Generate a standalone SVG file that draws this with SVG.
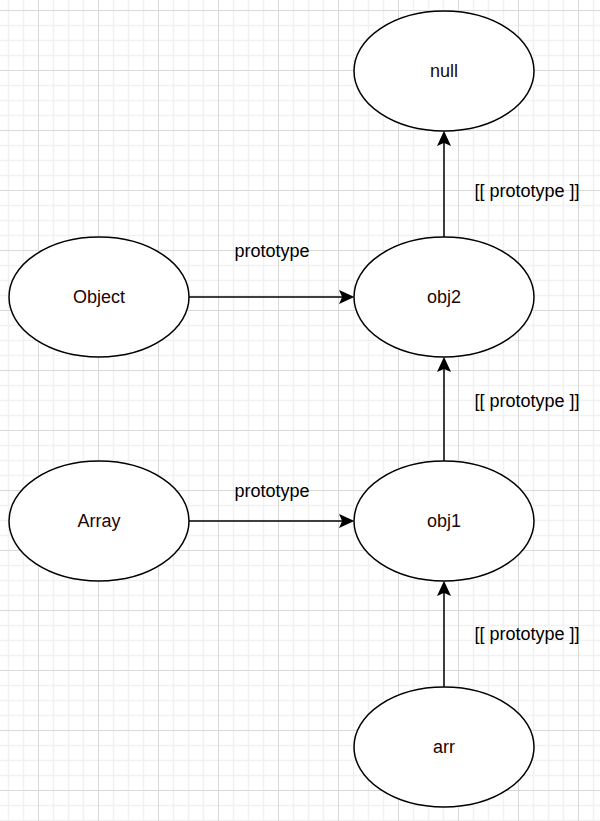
<svg xmlns="http://www.w3.org/2000/svg" width="600" height="821" viewBox="0 0 600 821">
  <style>
    .node ellipse { fill: #ffffff; stroke: #000000; stroke-width: 1.5; }
    .node text { font-family: "Liberation Sans", Arial, sans-serif; font-size: 18px; fill: #1e0505; text-anchor: middle; }
    .edge { fill: none; stroke: #000000; stroke-width: 1.5; marker-end: url(#arrow); }
    .label { font-family: "Liberation Sans", Arial, sans-serif; font-size: 18px; fill: #000000; text-anchor: middle; }
  </style>
  <defs>
    <!-- 15px minor grid, 60px major grid -->
    <pattern id="grid" patternUnits="userSpaceOnUse" x="38" y="10" width="60" height="60">
      <path d="M15.5,0V60M30.5,0V60M45.5,0V60M0,15.5H60M0,30.5H60M0,45.5H60" stroke="#f1f1f1" stroke-width="1.5" fill="none"/>
      <path d="M0.5,0V60M0,0.5H60" stroke="#d9d9d9" stroke-width="1" fill="none"/>
    </pattern>
    <marker id="arrow" markerUnits="userSpaceOnUse" markerWidth="16" markerHeight="16" refX="3.5" refY="7" orient="auto" overflow="visible">
      <path d="M1,1.5 L13,7 L1,12.5 L3.5,7 Z" fill="#000000" stroke="#000000" stroke-width="1.5" stroke-linejoin="miter"/>
    </marker>
  </defs>

  <rect width="600" height="821" fill="#ffffff"/>
  <rect width="600" height="821" fill="url(#grid)"/>

  <g id="connectors">
    <g id="edge-object-obj2">
      <path class="edge" d="M189,297 H343"/>
      <text class="label" x="272" y="257">prototype</text>
    </g>
    <g id="edge-array-obj1">
      <path class="edge" d="M189,521 H343"/>
      <text class="label" x="272" y="497">prototype</text>
    </g>
    <g id="edge-obj2-null">
      <path class="edge" d="M444,237 V142"/>
      <text class="label" x="527" y="197">[[ prototype ]]</text>
    </g>
    <g id="edge-obj1-obj2">
      <path class="edge" d="M444,461 V368"/>
      <text class="label" x="527" y="407">[[ prototype ]]</text>
    </g>
    <g id="edge-arr-obj1">
      <path class="edge" d="M444,687 V592"/>
      <text class="label" x="527" y="640">[[ prototype ]]</text>
    </g>
  </g>

  <g id="node-null" class="node">
    <ellipse cx="444" cy="71" rx="90" ry="60"/>
    <text x="444" y="77">null</text>
  </g>
  <g id="node-object" class="node">
    <ellipse cx="99" cy="297" rx="90" ry="60"/>
    <text x="99" y="303">Object</text>
  </g>
  <g id="node-obj2" class="node">
    <ellipse cx="444" cy="297" rx="90" ry="60"/>
    <text x="444" y="303">obj2</text>
  </g>
  <g id="node-array" class="node">
    <ellipse cx="99" cy="521" rx="90" ry="60"/>
    <text x="99" y="527">Array</text>
  </g>
  <g id="node-obj1" class="node">
    <ellipse cx="444" cy="521" rx="90" ry="60"/>
    <text x="444" y="527">obj1</text>
  </g>
  <g id="node-arr" class="node">
    <ellipse cx="444" cy="747" rx="90" ry="60"/>
    <text x="444" y="753">arr</text>
  </g>
</svg>
